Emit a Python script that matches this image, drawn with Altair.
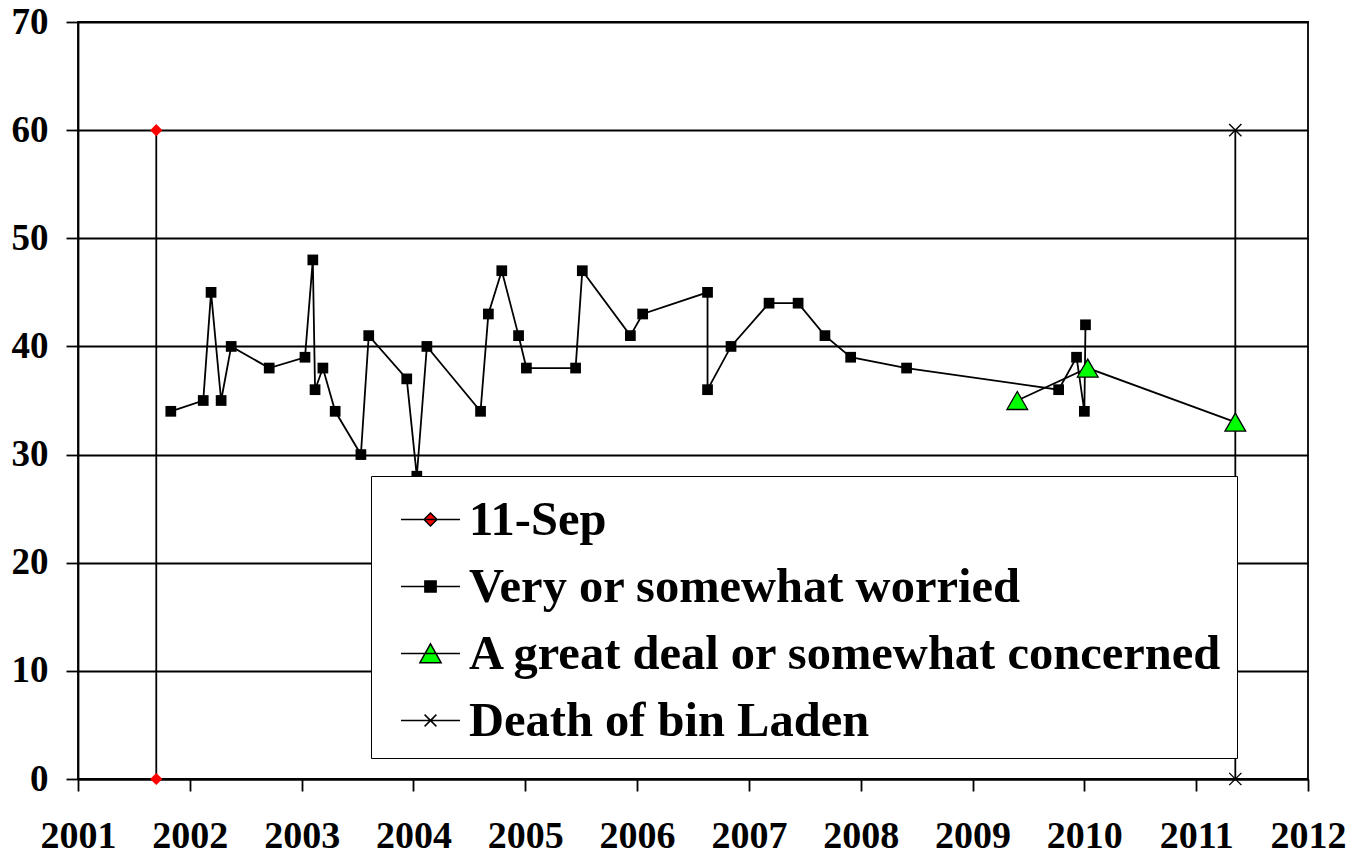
import altair as alt
import pandas as pd

# ---- data ----
worried_dates = [2001.83, 2002.12, 2002.19, 2002.28, 2002.37, 2002.71, 2003.03, 2003.10,
                 2003.12, 2003.19, 2003.30, 2003.53, 2003.60, 2003.94, 2004.03, 2004.12,
                 2004.60, 2004.67, 2004.79, 2004.94, 2005.01, 2005.45, 2005.51, 2005.94,
                 2006.05, 2006.63, 2006.63, 2006.84, 2007.18, 2007.44, 2007.68, 2007.91,
                 2008.41, 2009.77, 2009.93, 2010.00, 2010.01]
worried_vals = [34, 35, 45, 35, 40, 38, 39, 48, 36, 38, 34, 30, 41, 37, 28, 40, 34, 43, 47,
                41, 38, 38, 47, 41, 43, 45, 36, 40, 44, 44, 41, 39, 38, 36, 39, 34, 42]

concern_dates = [2009.40, 2010.03, 2011.35]
concern_vals = [35, 38, 33]

sep11_dates = [2001.70, 2001.70]
sep11_vals = [60, 0]

laden_dates = [2011.35, 2011.35]
laden_vals = [60, 0]

series_names = ["11-Sep", "Very or somewhat worried",
                "A great deal or somewhat concerned", "Death of bin Laden"]
year_ticks = list(range(2001, 2013))
value_ticks = list(range(0, 80, 10))


def frame(dates, vals):
    return pd.DataFrame({"x": dates, "y": vals, "idx": list(range(len(dates)))})


df_w = frame(worried_dates, worried_vals)
df_c = frame(concern_dates, concern_vals)
df_s = frame(sep11_dates, sep11_vals)
df_l = frame(laden_dates, laden_vals)
df_leg = pd.DataFrame({"series": series_names})

FONT = "Liberation Serif"
LW = 1.8
xs = alt.Scale(domain=[2001, 2012], nice=False, zero=False)
ys = alt.Scale(domain=[0, 70], nice=False)
xaxis = alt.Axis(values=year_ticks, format="d", title=None, grid=False,
                 labelFlush=False, labelOverlap=False)
yaxis = alt.Axis(values=value_ticks, format="d", title=None, grid=True,
                 labelFlush=False, labelOverlap=False)

X = alt.X("x:Q", scale=xs, axis=xaxis)
Y = alt.Y("y:Q", scale=ys, axis=yaxis)
O = alt.Order("idx:Q")

X_PATH = "M-1,-1L1,1M-1,1L1,-1"

def line_layer(df):
    return alt.Chart(df).mark_line(color="black", strokeWidth=LW).encode(x=X, y=Y, order=O)

w_line = line_layer(df_w)
c_line = line_layer(df_c)
s_line = line_layer(df_s)
l_line = line_layer(df_l)

w_pts = alt.Chart(df_w).mark_point(shape="square", filled=True, color="black",
                                   size=115, opacity=1).encode(x=X, y=Y)
c_pts = alt.Chart(df_c).mark_point(shape="triangle-up", filled=True, fill="#00ff00",
                                   stroke="black", strokeWidth=1.3, size=430,
                                   opacity=1).encode(x=X, y=Y)
s_pts = alt.Chart(df_s).mark_point(shape="diamond", filled=True, color="#ff0000",
                                   size=150, opacity=1).encode(x=X, y=Y)
l_pts = alt.Chart(df_l).mark_point(shape=X_PATH, filled=False, stroke="black",
                                   strokeWidth=1.4, size=150, opacity=1).encode(x=X, y=Y)

legend_paths = [
    "M-1,0H1M0,-0.22L0.22,0L0,0.22L-0.22,0Z",
    "M-1,0H1M-0.19,-0.19H0.19V0.19H-0.19Z",
    "M-1,0H1M0,-0.33L0.36,0.31H-0.36Z",
    "M-1,0H1M-0.2,-0.2L0.2,0.2M-0.2,0.2L0.2,-0.2",
]
legend_fills = ["#ff0000", "black", "#00ff00", "transparent"]
legend_strokes = ["black", "black", "black", "black"]

leg = alt.Legend(orient="none", legendX=293, legendY=454, title=None,
                 labelFont=FONT, labelFontSize=48.5,
                 labelFontWeight="bold", labelColor="black",
                 labelLimit=2000, labelOffset=8, symbolOffset=16,
                 symbolSize=3481, symbolStrokeWidth=1.5,
                 fillColor="white", strokeColor="black",
                 padding=13, rowPadding=12)

legend_layer = alt.Chart(df_leg).mark_point(
    filled=True, strokeWidth=1.5, size=3481, opacity=1, clip=True
).encode(
    x=alt.value(-2000),
    y=alt.value(-2000),
    shape=alt.Shape("series:N",
                    scale=alt.Scale(domain=series_names, range=legend_paths),
                    legend=leg),
    fill=alt.Fill("series:N",
                  scale=alt.Scale(domain=series_names, range=legend_fills),
                  legend=leg),
    stroke=alt.Stroke("series:N",
                      scale=alt.Scale(domain=series_names, range=legend_strokes),
                      legend=leg),
)

chart = alt.layer(
    w_line, c_line, s_line, l_line, w_pts, s_pts, l_pts, c_pts, legend_layer
).properties(
    width=1230, height=757,
    padding={"left": 70, "top": 14, "right": 48, "bottom": 76},
    autosize=alt.AutoSizeParams(type="none"),
    background="white",
).configure_view(
    stroke="black", strokeWidth=LW
).configure_axis(
    domainColor="black", domainWidth=LW,
    tickColor="black", tickWidth=LW, tickSize=12,
    gridColor="black", gridWidth=LW, gridOpacity=1,
    labelFont=FONT, labelFontWeight="bold", labelColor="black",
).configure_axisX(
    labelPadding=26, labelFontSize=38
).configure_axisY(
    labelPadding=18, labelFontSize=37
)

chart.save("out.html", embed_options={"renderer": "svg", "actions": False})
